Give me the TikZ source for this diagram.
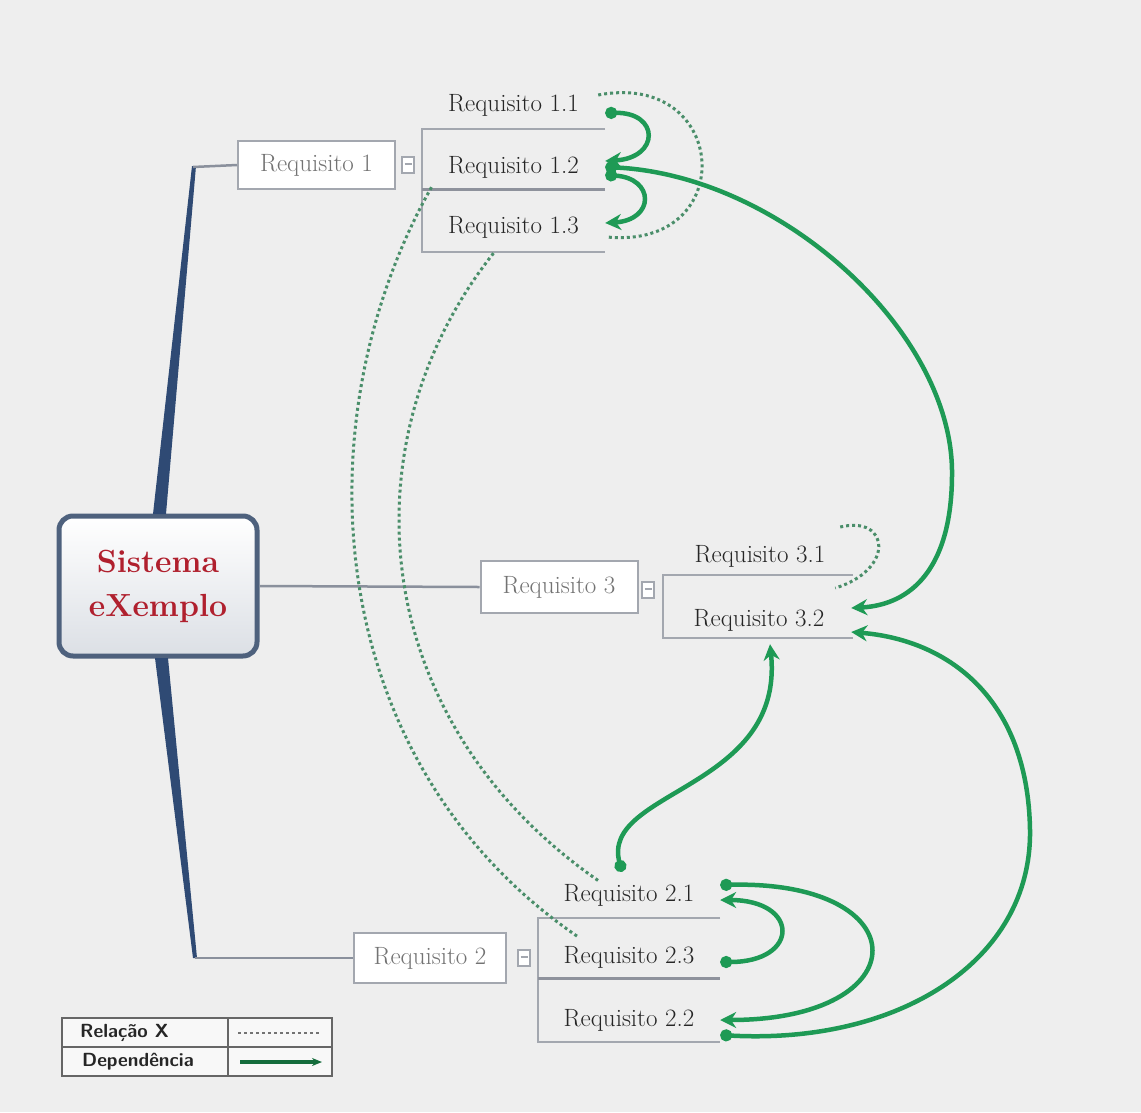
\documentclass[tikz,border=0pt]{standalone}
\usetikzlibrary{arrows.meta}
\definecolor{bgc}{HTML}{EEEEEE}
\definecolor{depc}{HTML}{1E9A55}
\definecolor{relc}{HTML}{4A8E6A}
\definecolor{navy}{HTML}{2F4A74}
\definecolor{framec}{HTML}{A3A7AF}
\definecolor{sepc}{HTML}{8E929C}
\definecolor{sysred}{HTML}{B0202E}
\definecolor{sysborder}{HTML}{4E617D}
\definecolor{branchc}{HTML}{8A909C}
\begin{document}
\begin{tikzpicture}[x=1pt,y=-1pt,
  reqbox/.style={draw=framec, line width=2pt, fill=white, minimum height=48pt, inner sep=0pt,
    text=gray!90!black, font=\fontsize{25}{28}\selectfont},
  childtxt/.style={minimum width=183pt, minimum height=40pt, inner sep=0pt,
    text=black!85, font=\fontsize{25}{28}\selectfont},
  grpline/.style={draw=framec, line width=2.5pt},
  sepline/.style={draw=sepc, line width=3pt},
  branch/.style={draw=branchc, line width=2.5pt},
  depline/.style={draw=depc, line width=4.5pt, {Circle[length=12pt]}-{Stealth[length=16pt,width=16pt]}},
  relline/.style={draw=relc, line width=3pt, dash pattern=on 3pt off 3pt},
  marker/.style={draw=framec, line width=1.5pt, fill=white, minimum width=12pt, minimum height=16pt, inner sep=0pt},
  legtxt/.style={anchor=west, inner sep=0pt, font=\sffamily\bfseries\fontsize{19}{21}\selectfont, text=black!85}
]
\useasboundingbox (0,0) rectangle (1141,1112);
\fill[bgc] (0,0) rectangle (1141,1112);

% central node
\node[draw=sysborder, line width=5pt, rounded corners=14pt, top color=white, bottom color=sysborder!20,
  minimum width=198pt, minimum height=140pt, align=center, text=sysred,
  font=\bfseries\fontsize{32}{44}\selectfont] (sys) at (158,586) {Sistema\\eXemplo};

% level-1 nodes
\node[reqbox, minimum width=157pt] (r1) at (316.5,165) {Requisito 1};
\node[reqbox, minimum width=157pt, minimum height=52pt] (r3) at (559,587) {Requisito 3};
\node[reqbox, minimum width=152pt, minimum height=50pt] (r2) at (430,958) {Requisito 2};

% branches
\fill[navy] (153,514) -- (166,514) -- (196,166) -- (192,166) -- cycle;
\fill[navy] (155,658) -- (168,658) -- (197,958) -- (193,958) -- cycle;
\coordinate (b1) at (193,167);
\coordinate (b2) at (195,958);
\draw[branch] (b1) -- (r1.west);
\draw[branch] (b2) -- (r2.west);
\draw[branch] (sys.east) -- (r3.west);

% collapse markers
\node[marker] (m1) at (408,165) {\textcolor{framec}{\rule[0.5ex]{7pt}{1.5pt}}};
\node[marker] (m3) at (648,590) {\textcolor{framec}{\rule[0.5ex]{7pt}{1.5pt}}};
\node[marker] (m2) at (524,958) {\textcolor{framec}{\rule[0.5ex]{7pt}{1.5pt}}};

% group frames
\draw[grpline] (605,129) -- (422,129) -- (422,252) -- (605,252);
\draw[sepline] (422,189) -- (605,189);
\draw[grpline] (853,575) -- (663,575) -- (663,638) -- (853,638);
\draw[grpline] (720,918) -- (538,918) -- (538,1042) -- (720,1042);
\draw[sepline] (538,978) -- (720,978);

% child texts
\node[childtxt] (r11) at (513.5,105) {Requisito 1.1};
\node[childtxt] (r12) at (513.5,167) {Requisito 1.2};
\node[childtxt] (r13) at (513.5,227) {Requisito 1.3};
\node[childtxt, minimum width=190pt] (r31) at (760,556) {Requisito 3.1};
\node[childtxt, minimum width=184pt] (r32) at (759,620) {Requisito 3.2};
\node[childtxt, minimum width=182pt] (r21) at (629,895) {Requisito 2.1};
\node[childtxt, minimum width=182pt] (r23) at (629,957) {Requisito 2.3};
\node[childtxt, minimum width=182pt] (r22) at (629,1020) {Requisito 2.2};

% dashed relations
\draw[relline] ([xshift=-7pt,yshift=10pt]r11.east) .. controls (730,70) and (740,250) .. ([xshift=2pt,yshift=-10pt]r13.east);
\draw[relline] ([xshift=-82pt]r12.south) .. controls (300,420) and (320,760) .. ([xshift=-51pt]r23.north);
\draw[relline] ([xshift=-20pt,yshift=-6pt]r13.south) .. controls (345,440) and (365,720) .. ([xshift=-29pt,yshift=-7pt]r21.north);
\draw[relline] ([xshift=-15pt,yshift=29pt]r31.east) .. controls (890,515) and (895,570) .. ([xshift=-20pt,yshift=-32pt]r31.east);

% dependencies
\draw[depline] ([yshift=-8pt]r11.east) .. controls (660,112) and (660,158) .. ([yshift=6pt]r12.east);
\draw[depline] ([yshift=-8pt]r12.east) .. controls (655,178) and (655,220) .. ([yshift=4pt]r13.east);
\draw[depline] (r12.east) .. controls (780,175) and (950,330) .. (952,470) .. controls (953,570) and (910,605) .. ([yshift=12pt]r32.east);
\draw[depline] ([xshift=-7pt,yshift=3pt]r21.north) .. controls (600,790) and (785,790) .. ([xshift=11pt,yshift=-4pt]r32.south);
\draw[depline] ([yshift=-15pt]r22.east) .. controls (900,1045) and (1032,960) .. (1030,830) .. controls (1028,700) and (950,640) .. ([yshift=-12pt]r32.east);
\draw[depline] ([yshift=-5pt]r23.east) .. controls (800,962) and (800,900) .. ([yshift=-5pt]r21.east);
\draw[depline] ([yshift=10pt]r21.east) .. controls (920,880) and (920,1020) .. (r22.east);

% legend
\draw[draw=black!60, line width=2pt, fill=white!60!bgc] (62,1018) rectangle (332,1076);
\draw[draw=black!60, line width=2pt] (62,1047) -- (332,1047);
\draw[draw=black!60, line width=2pt] (228,1018) -- (228,1076);
\node[legtxt] (lg1) at (80,1033) {Relação X};
\node[legtxt] (lg2) at (82,1062) {Dependência};
\coordinate (la1) at (238,1033);
\coordinate (la2) at (320,1033);
\coordinate (lb1) at (240,1062);
\coordinate (lb2) at (322,1062);
\draw[draw=black!55, line width=2pt, dash pattern=on 3pt off 3pt] (la1) -- (la2);
\draw[draw=depc!70!black, line width=3.5pt, -{Stealth[length=10pt,width=8pt]}] (lb1) -- (lb2);
\end{tikzpicture}
\end{document}
